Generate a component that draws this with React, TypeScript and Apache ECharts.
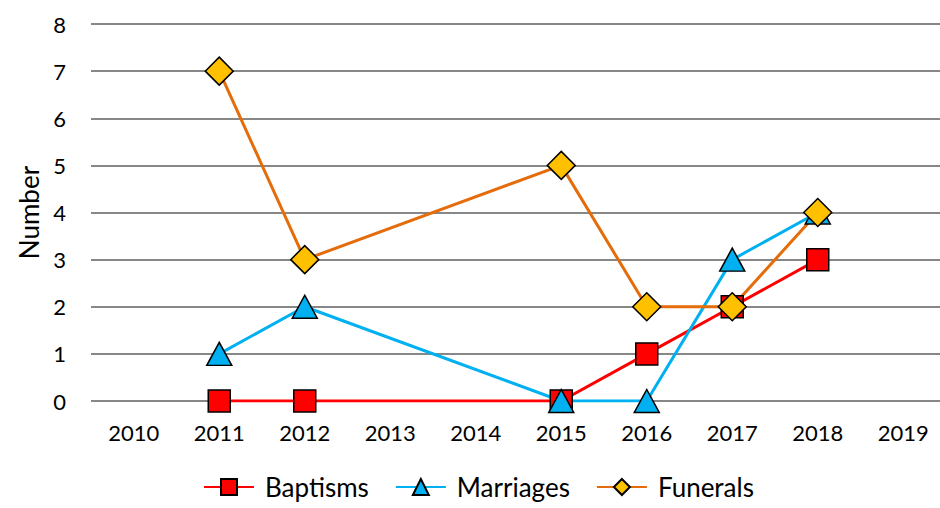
import React, { useEffect, useRef } from "react";
import * as echarts from "echarts";

const years = ["2010", "2011", "2012", "2013", "2014", "2015", "2016", "2017", "2018", "2019"];
const baptisms = [null, 0, 0, null, null, 0, 1, 2, 3, null];
const marriages = [null, 1, 2, null, null, 0, 0, 3, 4, null];
const funerals = [null, 7, 3, null, null, 5, 2, 2, 4, null];

export default function App() {
  const ref = useRef<HTMLDivElement>(null);
  useEffect(() => {
    const chart = echarts.init(ref.current!, null, { renderer: "svg" });
    const font = "Lato, 'Open Sans', sans-serif";
    chart.setOption({
      animation: false,
      textStyle: { fontFamily: font },
      grid: { left: 91, width: 855, top: 24, height: 377, outerBoundsMode: "none", containLabel: false },
      legend: {
        bottom: 3,
        left: 198,
        itemWidth: 50,
        itemHeight: 20,
        itemGap: 26,
        textStyle: { fontSize: 26, color: "#000", fontFamily: font, padding: [0, 0, 0, 6] },
        data: ["Baptisms", "Marriages", "Funerals"],
      },
      xAxis: {
        type: "category",
        data: years,
        boundaryGap: true,
        axisLine: { show: false },
        axisTick: { show: false },
        axisLabel: { fontSize: 22, color: "#000", margin: 20, fontFamily: font },
      },
      yAxis: {
        type: "value",
        min: 0,
        max: 8,
        interval: 1,
        name: "Number",
        nameLocation: "middle",
        nameGap: 48,
        nameTextStyle: { fontSize: 26, color: "#000", fontFamily: font },
        axisLabel: { fontSize: 22, color: "#000", margin: 25, fontFamily: font },
        splitLine: { lineStyle: { color: "#878787", width: 2 } },
      },
      series: [
        {
          name: "Baptisms",
          type: "line",
          data: baptisms,
          connectNulls: true,
          symbol: "rect",
          symbolSize: 22,
          lineStyle: { color: "#FF0000", width: 3 },
          itemStyle: { color: "#FF0000", borderColor: "#000", borderWidth: 1.5 },
        },
        {
          name: "Marriages",
          type: "line",
          data: marriages,
          connectNulls: true,
          symbol: "triangle",
          symbolSize: [25, 23],
          lineStyle: { color: "#00B0F0", width: 3 },
          itemStyle: { color: "#00B0F0", borderColor: "#000", borderWidth: 1.5 },
        },
        {
          name: "Funerals",
          type: "line",
          data: funerals,
          connectNulls: true,
          symbol: "diamond",
          symbolSize: 28,
          lineStyle: { color: "#E46C0A", width: 3 },
          itemStyle: { color: "#FFC000", borderColor: "#000", borderWidth: 1.5 },
        },
      ],
    });
    return () => chart.dispose();
  }, []);
  return (
    <div
      ref={ref}
      style={{ position: "fixed", left: 0, top: 0, width: 940, height: 508, background: "#fff" }}
    />
  );
}
